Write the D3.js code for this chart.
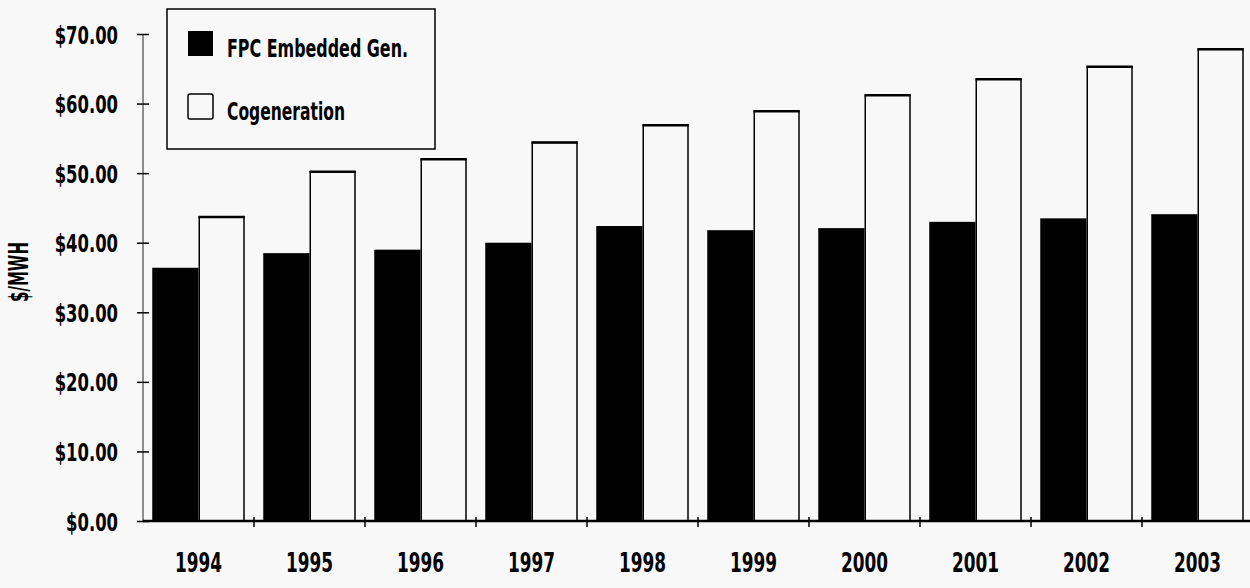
<!DOCTYPE html>
<html>
<head>
<meta charset="utf-8">
<script src="https://cdn.jsdelivr.net/npm/d3@7"></script>
<style>
  html, body { margin: 0; padding: 0; background: #f8f8f8; }
  svg { display: block; }
  text { font-family: "Liberation Sans Narrow", "DejaVu Sans Condensed", "Roboto", sans-serif; font-weight: bold; fill: #000; }
</style>
</head>
<body>
<script>
const years = ["1994","1995","1996","1997","1998","1999","2000","2001","2002","2003"];
const seriesNames = ["FPC Embedded Gen.", "Cogeneration"];
const fpcValues = [36.4, 38.5, 39.0, 40.0, 42.4, 41.8, 42.1, 43.0, 43.5, 44.1];
const cogenValues = [43.7, 50.2, 52.0, 54.4, 56.9, 58.9, 61.2, 63.5, 65.3, 67.8];
const yTicks = [0, 10, 20, 30, 40, 50, 60, 70];
const yTitle = "$/MWH";

const W = 1250, H = 588;
const svg = d3.select("body").append("svg").attr("width", W).attr("height", H);

function condense(sel, target) {
  sel.each(function() {
    const t = d3.select(this);
    const w = this.getComputedTextLength();
    const tw = typeof target === "function" ? target(w) : target;
    if (w > 0) t.attr("textLength", tw).attr("lengthAdjust", "spacingAndGlyphs");
  });
}

const x0 = d3.scaleBand().domain(years).range([143, 1253]).padding(0);
const x1 = d3.scaleBand().domain(seriesNames).range([0, x0.bandwidth()]).paddingInner(0).paddingOuter(0.2);
const y = d3.scaleLinear().domain([0, 70]).range([521, 34]);

const data = years.map((yr, i) => ({year: yr, vals: [
  {s: seriesNames[0], v: fpcValues[i]},
  {s: seriesNames[1], v: cogenValues[i]}
]}));

// bars
const g = svg.append("g");
const groups = g.selectAll("g.grp").data(data).join("g")
  .attr("transform", d => `translate(${x0(d.year)},0)`);
groups.selectAll("rect").data(d => d.vals).join("rect")
  .attr("x", d => x1(d.s) + (d.s === seriesNames[1] ? 0.75 : 0))
  .attr("width", d => x1.bandwidth() - (d.s === seriesNames[1] ? 1.5 : 0))
  .attr("y", d => y(d.v))
  .attr("height", d => y(0) - y(d.v))
  .attr("fill", d => d.s === seriesNames[0] ? "#000" : "#f8f8f8")
  .attr("stroke", d => d.s === seriesNames[0] ? "none" : "#000")
  .attr("stroke-width", 1.5);
groups.selectAll("line.top").data(d => d.vals.filter(v => v.s === seriesNames[1])).join("line")
  .attr("x1", d => x1(d.s)).attr("x2", d => x1(d.s) + x1.bandwidth())
  .attr("y1", d => y(d.v)).attr("y2", d => y(d.v))
  .attr("stroke", "#000").attr("stroke-width", 2.5);

// y axis
const yAxis = d3.axisLeft(y).tickValues(yTicks).tickFormat(d => "$" + d3.format(".2f")(d)).tickSize(6).tickPadding(19);
const yg = svg.append("g").attr("transform", "translate(143,0)").call(yAxis);
yg.select(".domain").remove();
yg.append("line").attr("x1", 0).attr("x2", 0).attr("y1", y(70)).attr("y2", y(0))
  .attr("stroke", "#222").attr("stroke-width", 1);
yg.selectAll(".tick line").attr("x1", -6).attr("x2", 6).attr("stroke", "#000").attr("stroke-width", 1.5);
yg.selectAll(".tick text").attr("font-size", 25).attr("font-family", null).attr("font-weight", "bold").attr("dy", "0.36em");
condense(yg.selectAll(".tick text"), w => w * 0.73);

// x axis
const xAxis = d3.axisBottom(x0).tickSize(0).tickPadding(48);
const xg = svg.append("g").attr("transform", `translate(0,${y(0)})`).call(xAxis);
xg.select(".domain").remove();
xg.append("line").attr("x1", 143).attr("x2", W).attr("y1", 0).attr("y2", 0)
  .attr("stroke", "#000").attr("stroke-width", 2.5);
xg.selectAll(".tick text").attr("font-size", 26).attr("font-family", null).attr("font-weight", "bold").attr("dy", "0.1em");
condense(xg.selectAll(".tick text"), 47);
xg.selectAll("line.sep").data(years.slice(1)).join("line")
  .attr("x1", d => x0(d)).attr("x2", d => x0(d)).attr("y1", -4).attr("y2", 6)
  .attr("stroke", "#000").attr("stroke-width", 1.5);

// y title
const yt = svg.append("text").attr("transform", "translate(28,272) rotate(-90)")
  .attr("text-anchor", "middle").attr("font-size", 27).text(yTitle);
condense(yt, 60);

// legend
const lg = svg.append("g");
lg.append("rect").attr("x", 167).attr("y", 9).attr("width", 268).attr("height", 140)
  .attr("fill", "#f8f8f8").attr("stroke", "#000").attr("stroke-width", 1.5);
const items = lg.selectAll("g.item").data(seriesNames).join("g")
  .attr("transform", (d, i) => `translate(188,${31 + i * 63})`);
items.append("rect").attr("width", 25).attr("height", 25)
  .attr("fill", (d, i) => i === 0 ? "#000" : "#f8f8f8")
  .attr("stroke", "#000").attr("stroke-width", (d, i) => i === 0 ? 0 : 1.5).attr("rx", (d, i) => i === 0 ? 0 : 2);
const ltext = items.append("text").attr("x", 39).attr("y", 26).attr("font-size", 25).text(d => d);
ltext.each(function(d, i) { d3.select(this).attr("textLength", i === 0 ? 181 : 118).attr("lengthAdjust", "spacingAndGlyphs"); });
</script>
</body>
</html>
